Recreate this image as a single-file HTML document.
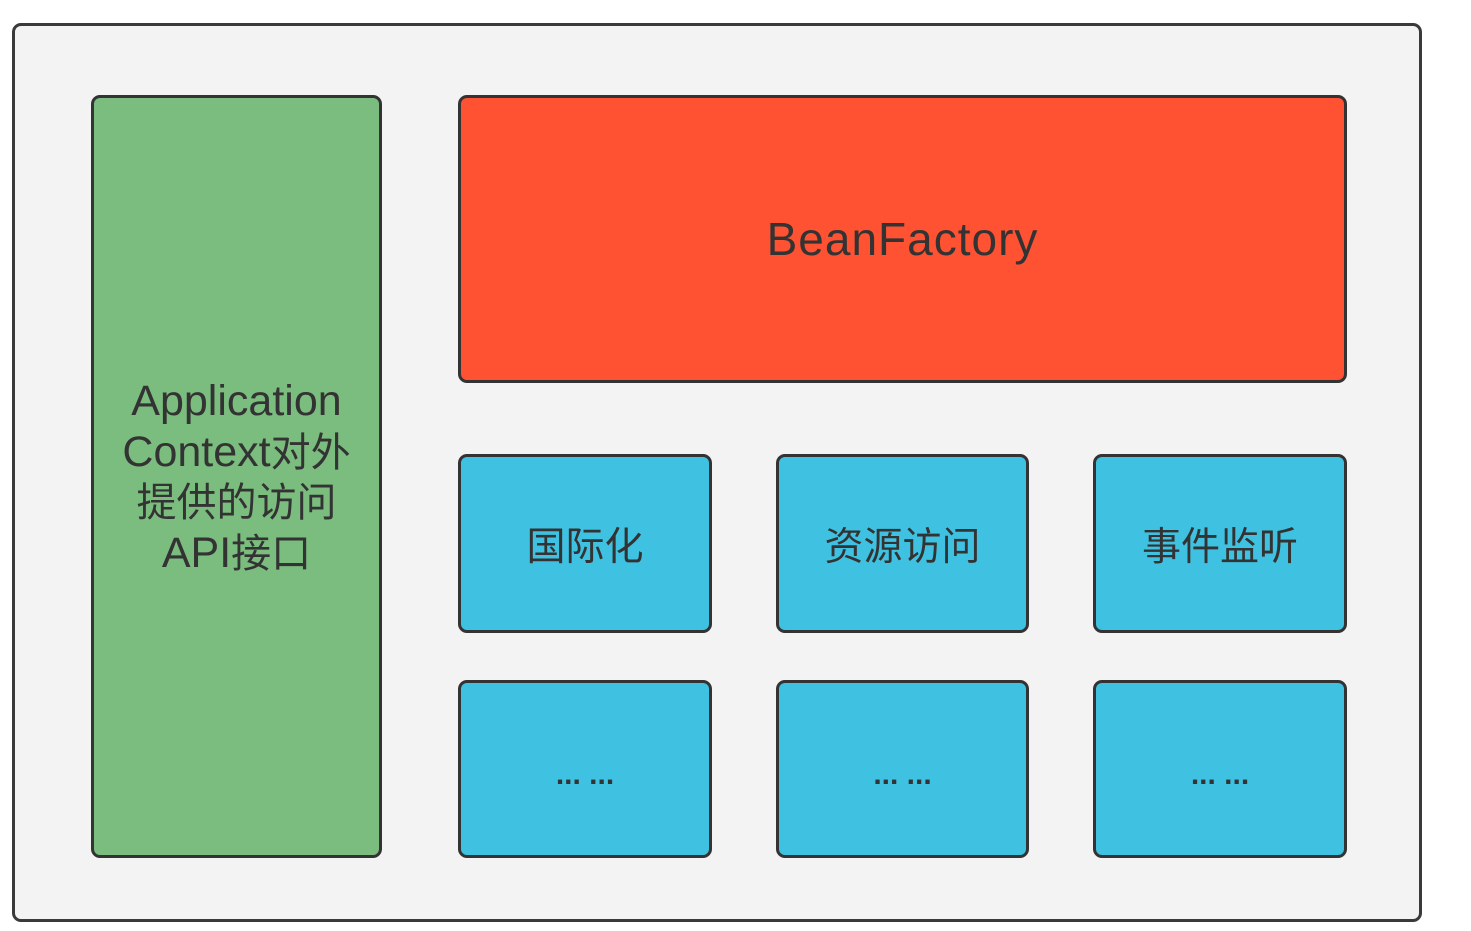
<!DOCTYPE html>
<html><head><meta charset="utf-8"><style>
body{margin:0;width:1471px;height:931px;background:#fff;position:relative;overflow:hidden;font-family:"Liberation Sans","Noto Sans CJK SC",sans-serif;color:#333}
.b{position:absolute;box-sizing:border-box;border:3px solid #333;border-radius:9px;display:flex;align-items:center;justify-content:center;text-align:center}
.c{background:#3fc2e2;font-size:39px}
.d{font-size:30px;font-weight:bold;padding-top:12px}
</style></head><body>
<div class="b" style="left:12px;top:23px;width:1410px;height:899px;background:#f3f3f3;border-color:#3a3a3a"></div>
<div class="b" style="left:91px;top:95px;width:291px;height:763px;background:#7bbd7e;font-size:40px;line-height:50px;padding-top:2px"><div><span style="font-size:43px">Application</span><br><span style="font-size:43px">Context</span>对外<br>提供的访问<br><span style="font-size:43px">API</span>接口</div></div>
<div class="b" style="left:458px;top:95px;width:889px;height:288px;background:#fe5232;font-size:46px;letter-spacing:1px">BeanFactory</div>
<div class="b c" style="left:458px;top:454px;width:254px;height:179px">国际化</div>
<div class="b c" style="left:776px;top:454px;width:253px;height:179px">资源访问</div>
<div class="b c" style="left:1093px;top:454px;width:254px;height:179px">事件监听</div>
<div class="b c d" style="left:458px;top:680px;width:254px;height:178px">... ...</div>
<div class="b c d" style="left:776px;top:680px;width:253px;height:178px">... ...</div>
<div class="b c d" style="left:1093px;top:680px;width:254px;height:178px">... ...</div>
</body></html>
